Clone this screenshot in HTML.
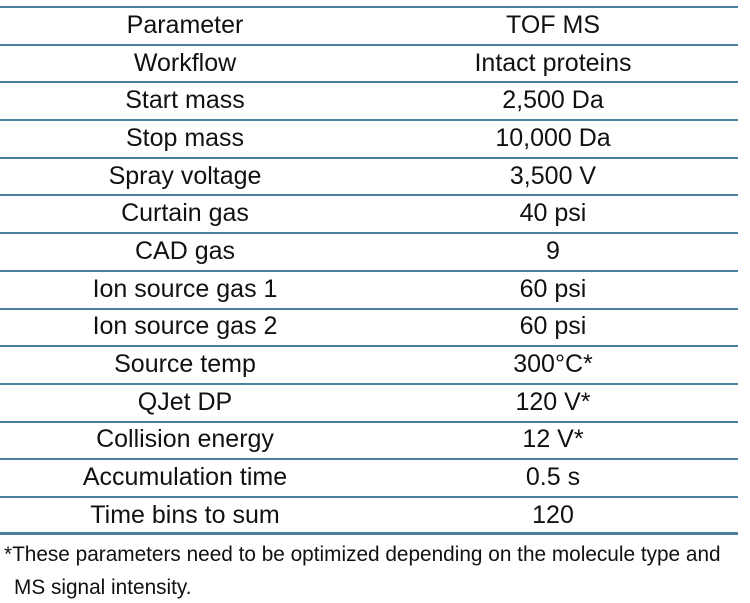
<!DOCTYPE html>
<html><head><style>
body{margin:0;background:#fff;width:750px;height:603px;overflow:hidden;font-family:"Liberation Sans",sans-serif;color:#111;}
.t{position:absolute;left:0;top:6px;width:738px;}
.r{position:relative;height:37.7px;border-top:2px solid #4a7fa0;box-sizing:border-box;font-size:25px;}
.r span{position:absolute;top:50%;transform:translate(-50%,-52%);white-space:nowrap}
.a{left:185px}.b{left:553px}
.end{position:absolute;left:0;top:532px;width:738px;height:3px;background:#4a7fa0}
.f{position:absolute;left:4px;font-size:21px;white-space:nowrap;transform-origin:0 0;transform:scaleX(0.99)}
</style></head><body>
<div class="t">
<div class="r"><span class="a">Parameter</span><span class="b">TOF MS</span></div>
<div class="r"><span class="a">Workflow</span><span class="b">Intact proteins</span></div>
<div class="r"><span class="a">Start mass</span><span class="b">2,500 Da</span></div>
<div class="r"><span class="a">Stop mass</span><span class="b">10,000 Da</span></div>
<div class="r"><span class="a">Spray voltage</span><span class="b">3,500 V</span></div>
<div class="r"><span class="a">Curtain gas</span><span class="b">40 psi</span></div>
<div class="r"><span class="a">CAD gas</span><span class="b">9</span></div>
<div class="r"><span class="a">Ion source gas 1</span><span class="b">60 psi</span></div>
<div class="r"><span class="a">Ion source gas 2</span><span class="b">60 psi</span></div>
<div class="r"><span class="a">Source temp</span><span class="b">300°C*</span></div>
<div class="r"><span class="a">QJet DP</span><span class="b">120 V*</span></div>
<div class="r"><span class="a">Collision energy</span><span class="b">12 V*</span></div>
<div class="r"><span class="a">Accumulation time</span><span class="b">0.5 s</span></div>
<div class="r"><span class="a">Time bins to sum</span><span class="b">120</span></div>
</div>
<div class="end"></div>
<div class="f" style="top:543px">*These parameters need to be optimized depending on the molecule type and</div>
<div class="f" style="top:576px;left:14px">MS signal intensity.</div>
</body></html>
